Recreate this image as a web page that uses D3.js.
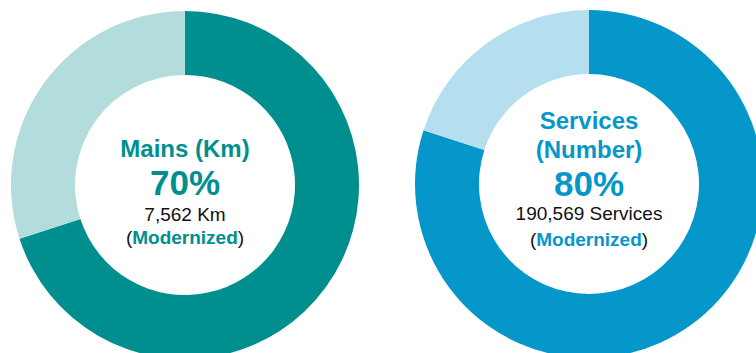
<!DOCTYPE html>
<html>
<head>
<meta charset="utf-8">
<script src="https://cdn.jsdelivr.net/npm/d3@7"></script>
<style>
    html, body { margin: 0; padding: 0; background: #fff; }
    svg { display: block; }
    text { font-family: "Liberation Sans", Arial, sans-serif; }
</style>
</head>
<body>
<svg id="chart"></svg>
<script>
// chart data
var titles = [["Mains (Km)"], ["Services", "(Number)"]];
var modernizedPct = [70, 80];
var modernizedCounts = ["7,562 Km", "190,569 Services"];
var darkColors = ["#008f8e", "#0697ca"];
var lightColors = ["#b2dddc", "#b5dfee"];

var width = 756,
    height = 353;

// donut placement
var centers = [[185, 185], [589, 184]];
var outerR = 174,
    innerR = 110;

var svg = d3.select("#chart")
    .attr("width", width)
    .attr("height", height);

var pie = d3.pie().sort(null).value(function(d) { return d; });
var arc = d3.arc().innerRadius(innerR).outerRadius(outerR);

modernizedPct.forEach(function(pct, i) {
    var g = svg.append("g")
        .attr("transform", "translate(" + centers[i][0] + "," + centers[i][1] + ")");

    g.selectAll("path")
        .data(pie([pct, 100 - pct])).enter()
        .append("path")
        .attr("d", arc)
        .style("fill", function(d, j) { return j == 0 ? darkColors[i] : lightColors[i]; });

    // label block inside the hole
    var lines = titles[i];
    var titleBase = lines.length == 1 ? -28 : -55;
    lines.forEach(function(t, k) {
        g.append("text")
            .attr("text-anchor", "middle")
            .attr("y", titleBase + k * 29)
            .style("font-size", "24px")
            .style("font-weight", "bold")
            .style("fill", darkColors[i])
            .text(t);
    });

    g.append("text")
        .attr("text-anchor", "middle")
        .attr("y", 10 + (i == 1 ? 2 : 0))
        .style("font-size", "35px")
        .style("font-weight", "bold")
        .style("fill", darkColors[i])
        .text(pct + "%");

    g.append("text")
        .attr("text-anchor", "middle")
        .attr("y", 36)
        .style("font-size", "19px")
        .style("fill", "#111")
        .text(modernizedCounts[i]);

    var m = g.append("text")
        .attr("text-anchor", "middle")
        .attr("y", 59 + (i == 1 ? 3 : 0))
        .style("font-size", "19px")
        .style("fill", "#111");
    m.append("tspan").text("(");
    m.append("tspan").style("font-weight", "bold").style("fill", darkColors[i]).text("Modernized");
    m.append("tspan").text(")");
});
</script>
</body>
</html>
